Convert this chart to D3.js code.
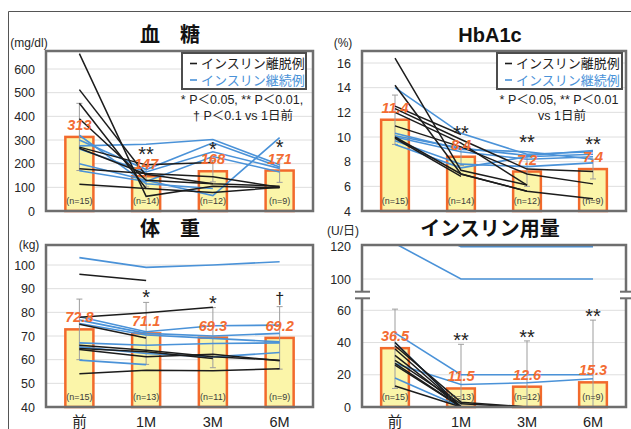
<!DOCTYPE html>
<html>
<head>
  <meta charset="utf-8">
  <title>血糖・HbA1c・体重・インスリン用量</title>
  <style>
  * {
    margin: 0;
    padding: 0;
  }
  body {
    background: #fff;
  }
  svg text {
    font-family: "Liberation Sans", Arial, "Noto Sans CJK JP", sans-serif;
  }
  </style>
</head>
<body>
  <script src="https://cdn.jsdelivr.net/npm/d3@7"></script>
  <script>
  var cats = ["前", "1M", "3M", "6M"];

  // 血糖 (mg/dl)
  var bsMean = [313, 147, 168, 171];
  var bsSD = [142, 45, 45, 50];
  var bsN = [15, 14, 12, 9];
  var bsSig = ["", "**", "*", "*"];
  var bsTicks = [0, 100, 200, 300, 400, 500, 600];
  var bsOff = [
    [665, 62, 105, 98],
    [513, 150, null, null],
    [455, 95, 78, 100],
    [390, 130, 115, null],
    [270, 195, 205, null],
    [265, 155, 115, 105],
    [178, 158, 145, 100],
    [113, 95, null, null]
  ];
  var bsOn = [
    [275, 282, 302, 195],
    [300, 175, 288, 186],
    [262, 165, 250, 180],
    [200, 130, 65, 310],
    [170, 125, 230, 165],
    [320, 115, 95, null],
    [300, null, null, null]
  ];

  // HbA1c (%)
  var a1cMean = [11.4, 8.4, 7.2, 7.4];
  var a1cSD = [2.0, 0.7, 1.2, 0.8];
  var a1cN = [15, 14, 12, 9];
  var a1cSig = ["", "**", "**", "**"];
  var a1cTicks = [4, 6, 8, 10, 12, 14, 16];
  var a1cOff = [
    [16.4, 7.3, 6.1, null],
    [14.2, 7.0, 5.6, null],
    [12.3, 9.8, 7.4, 7.2],
    [12.0, 9.5, 6.1, null],
    [10.9, 9.2, 7.0, 6.2],
    [10.0, 7.0, 5.6, 5.0],
    [9.9, 6.8, null, null],
    [12.5, 10.2, null, null]
  ];
  var a1cOn = [
    [14.0, 10.3, 8.6, 8.8],
    [10.1, 9.1, 8.5, 8.9],
    [10.0, 8.8, 8.2, 8.4],
    [9.7, 7.8, 7.6, 7.9],
    [9.4, 7.5, 8.4, 8.6],
    [10.3, 9.0, 8.8, 8.2],
    [11.5, null, null, null]
  ];

  // 体重 (kg)
  var wtMean = [72.8, 71.1, 69.3, 69.2];
  var wtSD = [12.8, 13.1, 12.7, 13.2];
  var wtN = [15, 13, 11, 9];
  var wtSig = ["", "*", "*", "†"];
  var wtTicks = [40, 50, 60, 70, 80, 90, 100];
  var wtOff = [
    [96.1, 93.4, null, null],
    [77.9, 79.8, 82.1, null],
    [75.0, 69.2, null, null],
    [66.1, 64.0, 61.2, 59.8],
    [64.3, 61.2, 62.3, 59.5],
    [54.1, 55.5, 55.3, 56.2],
    [64.7, 63.3, 60.5, null]
  ];
  var wtOn = [
    [103.1, 99.0, 100.0, 101.4],
    [78.1, 71.8, 74.3, 74.6],
    [76.7, 71.1, 70.0, 71.1],
    [75.3, 70.4, 69.0, 67.5],
    [67.1, 66.1, 66.8, 67.1],
    [65.4, 62.6, 61.2, 63.0],
    [59.8, 57.9, null, null],
    [66.5, null, null, null]
  ];

  // インスリン用量 (U/日)
  var insMean = [36.5, 11.5, 12.6, 15.3];
  var insSD = [25, 27.4, 28.4, 38.6];
  var insN = [15, 13, 12, 9];
  var insSig = ["", "**", "**", "**"];
  var insTicks = [0, 20, 40, 60, 100, 120];
  var insOff = [
    [40, 0, 0, 0],
    [38, 3, 0, 0],
    [36, 0, 0, 0],
    [32, 0, 0, 0],
    [29, 2, 0, 0],
    [27, 0, 0, null],
    [26, 0, 0, null],
    [13, 0, null, null]
  ];
  var insOn = [
    [122, 100, 100, 100],
    [140, 120, 120, 120],
    [46, 20, 20, 20],
    [27, 14, 15, 17.5],
    [40, 0, 0, null],
    [18, 0, null, null]
  ];

  var w = 631;
  var h = 429;
  var black = "#1c1c1c";
  var blue = "#4a92d8";
  var orange = "#f26a2c";
  var labelOrange = "#f36c33";
  var frameColor = "#6e6e6e";

  var svg = d3.select("body")
    .append("svg")
    .attr("width", w)
    .attr("height", h);

  // outer box (only top and left edges are in the picture)
  svg.append("path")
    .attr("d", "M8.5," + h + "V11.5H" + w)
    .attr("fill", "none")
    .attr("stroke", "#555")
    .attr("stroke-width", 1);

  function drawPanel(p) {
    var g = svg.append("g");
    var x = d3.scaleBand()
      .domain(cats)
      .range([p.left, p.right])
      .paddingInner(0.58)
      .paddingOuter(0.29);
    var y = p.y;
    var cx = function(c) {
      return x(c) + x.bandwidth() / 2;
    };
    var base = y.domain()[0];

    g.append("clipPath")
      .attr("id", "clip" + p.id)
      .append("rect")
      .attr("x", p.left)
      .attr("y", p.top)
      .attr("width", p.right - p.left)
      .attr("height", p.bottom - p.top);

    //gridlines
    g.selectAll("line.grid")
      .data(p.ticks.filter(function(t) {
        return t != base && y(t) > p.top + 3;
      }))
      .enter()
      .append("line")
      .attr("class", "grid")
      .attr("x1", p.left)
      .attr("x2", p.right)
      .attr("y1", function(d) { return y(d); })
      .attr("y2", function(d) { return y(d); })
      .attr("stroke", "#dedede")
      .attr("stroke-width", 1);

    var rows = cats.map(function(c, i) {
      return { c: c, m: p.mean[i], sd: p.sd[i], n: p.n[i], sig: p.sig[i] };
    });

    //bars
    g.selectAll("rect.bar")
      .data(rows)
      .enter()
      .append("rect")
      .attr("class", "bar")
      .attr("x", function(d) { return x(d.c); })
      .attr("width", x.bandwidth())
      .attr("y", function(d) { return y(d.m); })
      .attr("height", function(d) { return y(base) - y(d.m); })
      .attr("fill", "#fbf5a9")
      .attr("stroke", orange)
      .attr("stroke-width", 2.5);

    //error bars
    var eb = g.append("g")
      .attr("clip-path", "url(#clip" + p.id + ")")
      .attr("stroke", "#9d9d9d")
      .attr("stroke-width", 1);
    rows.forEach(function(d) {
      var c = cx(d.c);
      eb.append("line")
        .attr("x1", c).attr("x2", c)
        .attr("y1", y(d.m - d.sd)).attr("y2", y(d.m + d.sd));
      [d.m - d.sd, d.m + d.sd].forEach(function(v) {
        eb.append("line")
          .attr("x1", c - 3).attr("x2", c + 3)
          .attr("y1", y(v)).attr("y2", y(v));
      });
    });

    //patient lines
    var line = d3.line()
      .defined(function(v) { return v != null; })
      .x(function(v, i) { return cx(cats[i]); })
      .y(function(v) { return y(v); });
    var lg = g.append("g").attr("clip-path", "url(#clip" + p.id + ")");
    lg.selectAll("path.on")
      .data(p.on)
      .enter()
      .append("path")
      .attr("d", line)
      .attr("fill", "none")
      .attr("stroke", blue)
      .attr("stroke-width", 1.6);
    lg.selectAll("path.off")
      .data(p.off)
      .enter()
      .append("path")
      .attr("d", line)
      .attr("fill", "none")
      .attr("stroke", black)
      .attr("stroke-width", 1.5);

    //frame
    if (p.brk) {
      var b1 = p.brk[0], b2 = p.brk[1];
      g.append("path")
        .attr("d", "M" + p.left + "," + b1 + "V" + p.top + "H" + p.right + "V" + b1 +
          "M" + p.left + "," + b2 + "V" + p.bottom + "H" + p.right + "V" + b2)
        .attr("fill", "none")
        .attr("stroke", frameColor)
        .attr("stroke-width", 2.5);
      [b1, b2].forEach(function(by) {
        g.append("line")
          .attr("x1", p.left - 7).attr("x2", p.left + 8)
          .attr("y1", by).attr("y2", by)
          .attr("stroke", frameColor).attr("stroke-width", 2);
        g.append("line")
          .attr("x1", p.right - 6).attr("x2", w)
          .attr("y1", by).attr("y2", by)
          .attr("stroke", frameColor).attr("stroke-width", 2);
      });
    } else {
      g.append("rect")
        .attr("x", p.left)
        .attr("y", p.top)
        .attr("width", p.right - p.left)
        .attr("height", p.bottom - p.top)
        .attr("fill", "none")
        .attr("stroke", frameColor)
        .attr("stroke-width", 2.5);
    }

    //n labels
    g.selectAll("text.n")
      .data(rows)
      .enter()
      .append("text")
      .text(function(d) { return "(n=" + d.n + ")"; })
      .attr("x", function(d) { return cx(d.c); })
      .attr("y", p.bottom - 7)
      .attr("text-anchor", "middle")
      .attr("font-size", "9px")
      .attr("fill", "#3a3a3a");

    //mean labels
    g.selectAll("text.mean")
      .data(rows)
      .enter()
      .append("text")
      .text(function(d) { return p.fmt(d.m); })
      .attr("x", function(d) { return cx(d.c); })
      .attr("y", function(d) { return y(d.m) - 7; })
      .attr("text-anchor", "middle")
      .attr("font-size", "14.5px")
      .attr("font-weight", "bold")
      .attr("font-style", "italic")
      .attr("fill", labelOrange);

    //significance marks
    g.selectAll("text.sig")
      .data(rows.filter(function(d) { return d.sig; }))
      .enter()
      .append("text")
      .text(function(d) { return d.sig; })
      .attr("x", function(d) { return cx(d.c); })
      .attr("y", function(d) {
        var c = y(d.m + d.sd) - p.sigGap;
        return d.sig == "†" ? c + 6 : c + 11;
      })
      .attr("text-anchor", "middle")
      .attr("font-size", function(d) { return d.sig == "†" ? "16px" : "20px"; })
      .attr("fill", "#222");

    //y tick labels
    g.selectAll("text.tick")
      .data(p.ticks)
      .enter()
      .append("text")
      .text(function(d) { return d; })
      .attr("x", p.left - 11)
      .attr("y", function(d) { return y(d) + 4.5; })
      .attr("text-anchor", "end")
      .attr("font-size", "12.5px")
      .attr("fill", "#262626");

    //unit
    g.append("text")
      .text(p.unit)
      .attr("x", p.unitX)
      .attr("y", p.unitY)
      .attr("text-anchor", "middle")
      .attr("font-size", "12px")
      .attr("fill", "#262626");

    //title
    g.append("text")
      .text(p.title)
      .attr("x", p.titleX)
      .attr("y", p.top - 9)
      .attr("text-anchor", "middle")
      .attr("font-size", "20px")
      .attr("font-weight", "bold")
      .attr("fill", "#111");

    //category labels
    if (p.xLabels) {
      g.selectAll("text.cat")
        .data(cats)
        .enter()
        .append("text")
        .text(function(d) { return d; })
        .attr("x", function(d) { return cx(d); })
        .attr("y", 427)
        .attr("text-anchor", "middle")
        .attr("font-size", "14.5px")
        .attr("fill", "#222");
    }
  }

  function legend(lx, ly, lw, notes) {
    var g = svg.append("g");
    g.append("rect")
      .attr("x", lx).attr("y", ly)
      .attr("width", lw).attr("height", 36)
      .attr("fill", "#fff")
      .attr("stroke", "#4d4d4d")
      .attr("stroke-width", 2);
    [["インスリン離脱例", black], ["インスリン継続例", blue]].forEach(function(e, i) {
      var yy = ly + 10.5 + i * 16.5;
      g.append("line")
        .attr("x1", lx + 8).attr("x2", lx + 15)
        .attr("y1", yy).attr("y2", yy)
        .attr("stroke", e[1]).attr("stroke-width", 1.6);
      g.append("text")
        .text(e[0])
        .attr("x", lx + 19)
        .attr("y", yy + 4.5)
        .attr("font-size", "13px")
        .attr("fill", e[1]);
    });
    notes.forEach(function(t, i) {
      g.append("text")
        .text(t[0])
        .attr("x", t[1])
        .attr("y", 103.5 + i * 16)
        .attr("text-anchor", "middle")
        .attr("font-size", "12.5px")
        .attr("fill", "#222");
    });
  }

  drawPanel({
    id: 1, left: 46, right: 313, top: 51, bottom: 211,
    y: d3.scaleLinear().domain([0, 600]).range([211, 69]),
    ticks: bsTicks, mean: bsMean, sd: bsSD, n: bsN, sig: bsSig,
    off: bsOff, on: bsOn, sigGap: 16,
    fmt: d3.format("d"), title: "血　糖", titleX: 170,
    unit: "(mg/dl)", unitX: 29, unitY: 47
  });
  drawPanel({
    id: 2, left: 362, right: 626, top: 51, bottom: 211,
    y: d3.scaleLinear().domain([4, 16]).range([211, 63]),
    ticks: a1cTicks, mean: a1cMean, sd: a1cSD, n: a1cN, sig: a1cSig,
    off: a1cOff, on: a1cOn, sigGap: 19,
    fmt: d3.format(".1f"), title: "HbA1c", titleX: 490,
    unit: "(%)", unitX: 343, unitY: 47
  });
  drawPanel({
    id: 3, left: 46, right: 313, top: 245, bottom: 407,
    y: d3.scaleLinear().domain([40, 100]).range([407, 265]),
    ticks: wtTicks, mean: wtMean, sd: wtSD, n: wtN, sig: wtSig,
    off: wtOff, on: wtOn, sigGap: 9,
    fmt: d3.format(".1f"), title: "体　重", titleX: 170,
    unit: "(kg)", unitX: 29, unitY: 249,
    xLabels: true
  });
  drawPanel({
    id: 4, left: 362, right: 626, top: 245, bottom: 407,
    y: d3.scaleLinear().domain([0, 60, 100, 120]).range([407, 310.3, 279, 246.7]),
    ticks: insTicks, mean: insMean, sd: insSD, n: insN, sig: insSig,
    off: insOff, on: insOn, sigGap: 8, brk: [291.7, 298.3],
    fmt: d3.format(".1f"), title: "インスリン用量", titleX: 490,
    unit: "(U/日)", unitX: 343, unitY: 235,
    xLabels: true
  });

  legend(182, 53, 124, [["* P＜0.05, ** P＜0.01,", 242], ["† P＜0.1 vs 1日前", 243]]);
  legend(497, 53, 125, [["* P＜0.05, ** P＜0.01", 559], ["vs 1日前", 562]]);
  </script>
</body>
</html>
